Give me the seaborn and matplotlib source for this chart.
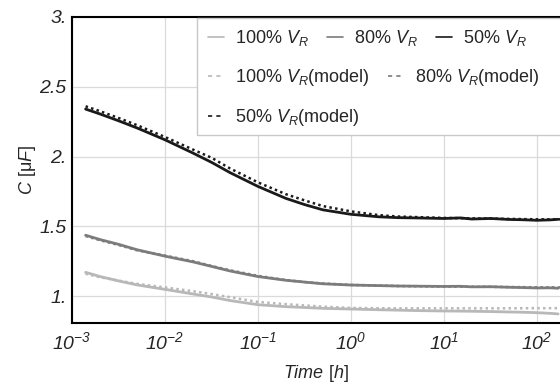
import numpy as np
import pandas as pd
import seaborn as sns
import matplotlib.pyplot as plt
from matplotlib.lines import Line2D
from matplotlib.legend import Legend
from matplotlib.patches import Rectangle

# measured time points [h]
time_data = [0.0014, 0.002, 0.0032, 0.005, 0.01, 0.02, 0.032, 0.05, 0.1, 0.2, 0.32, 0.5,
             1.0, 2.0, 3.2, 5.0, 10.0, 15.0, 20.0, 32.0, 50.0, 70.0, 100.0, 140.0, 170.0]
c_100 = [1.17, 1.14, 1.108, 1.08, 1.048, 1.015, 0.993, 0.968, 0.938, 0.924, 0.918, 0.912,
         0.907, 0.902, 0.899, 0.896, 0.893, 0.892, 0.891, 0.889, 0.886, 0.884, 0.881, 0.876, 0.872]
c_80 = [1.436, 1.405, 1.37, 1.332, 1.286, 1.245, 1.212, 1.18, 1.14, 1.113, 1.10, 1.088,
        1.079, 1.075, 1.072, 1.071, 1.069, 1.070, 1.066, 1.067, 1.063, 1.061, 1.058, 1.059, 1.056]
c_50 = [2.34, 2.305, 2.255, 2.205, 2.12, 2.025, 1.957, 1.885, 1.786, 1.70, 1.655, 1.618,
        1.586, 1.568, 1.562, 1.560, 1.556, 1.560, 1.552, 1.556, 1.549, 1.547, 1.543, 1.546, 1.55]

# model time points [h]
time_model = [0.0014, 0.002, 0.0032, 0.005, 0.01, 0.02, 0.032, 0.05, 0.1, 0.2, 0.32, 0.5,
              1.0, 2.0, 3.2, 10.0, 32.0, 100.0, 178.0]
m_100 = [1.16, 1.135, 1.11, 1.088, 1.062, 1.035, 1.014, 0.992, 0.958, 0.942, 0.933, 0.924,
         0.915, 0.913, 0.912, 0.912, 0.912, 0.913, 0.913]
m_80 = [1.43, 1.40, 1.365, 1.328, 1.29, 1.25, 1.215, 1.185, 1.145, 1.115, 1.10, 1.09,
        1.08, 1.075, 1.072, 1.068, 1.066, 1.063, 1.062]
m_50 = [2.36, 2.325, 2.275, 2.225, 2.14, 2.05, 1.99, 1.915, 1.815, 1.73, 1.685, 1.645,
        1.607, 1.58, 1.57, 1.56, 1.555, 1.55, 1.55]

colors = {"100": "#b8b8b8", "80": "#7c7c7c", "50": "#1a1a1a"}

sns.set_style("white")
plt.rcParams["font.family"] = ["Liberation Sans", "DejaVu Sans"]
plt.rcParams["mathtext.fontset"] = "custom"
# italic for digits too (tick exponents)
plt.rcParams["mathtext.rm"] = "Liberation Sans:italic"
plt.rcParams["mathtext.it"] = "Liberation Sans:italic"
plt.rcParams["mathtext.default"] = "it"

fig = plt.figure(figsize=(5.6, 3.87), dpi=100)
ax = fig.add_axes([0.1286, 0.1654, 0.8714, 0.7907])

dots = (0, (1, 1.3))
for key, ys in [("100", c_100), ("80", c_80), ("50", c_50)]:
    sns.lineplot(x=time_data, y=ys, ax=ax, color=colors[key], linewidth=2.0, zorder=3)
for key, ys in [("100", m_100), ("80", m_80), ("50", m_50)]:
    sns.lineplot(x=time_model, y=ys, ax=ax, color=colors[key], linewidth=1.8,
                 linestyle=dots, zorder=3)

ax.set_xscale("log")
ax.set_xlim(1e-3, 178)
ax.set_ylim(0.807, 3.0)

xt = [1e-3, 1e-2, 1e-1, 1e0, 1e1, 1e2]
ax.set_xticks(xt)
ax.set_xticklabels([r"$10^{-3}$", r"$10^{-2}$", r"$10^{-1}$",
                    r"$10^{0}$", r"$10^{1}$", r"$10^{2}$"])
ax.xaxis.set_minor_locator(plt.NullLocator())
yt = [1.0, 1.5, 2.0, 2.5, 3.0]
ax.set_yticks(yt)
ax.set_yticklabels(["1.", "1.5", "2.", "2.5", "3."], fontstyle="italic")
ax.tick_params(axis="x", direction="in", length=3, width=1, labelsize=14, pad=6, color="black")
ax.tick_params(axis="y", direction="out", length=2, width=1, labelsize=14, pad=2, color="black")

ax.grid(True, color="#dadada", linewidth=0.9)
for s in ["left", "bottom", "top"]:
    ax.spines[s].set_color("black")
    ax.spines[s].set_linewidth(1.5)
ax.spines["right"].set_visible(False)

ax.set_xlabel(r"$Time$ [$h$]", fontsize=13, labelpad=7)
ax.set_ylabel(r"$C$ [μ$F$]", fontsize=13, labelpad=1)

# legend box (wraps like the original, three rows)
ax.add_patch(Rectangle((0.256, 0.614), 0.9, 0.382, transform=ax.transAxes,
                       facecolor="white", edgecolor="#c8c8c8", linewidth=1.0, zorder=4))

def h_data(c):
    return Line2D([], [], color=c, linewidth=1.2)

def h_model(c):
    return Line2D([], [], color=c, linewidth=1.2, linestyle=(0, (2.5, 2.5)))

rows = [
    (0.931, [h_data(colors["100"]), h_data(colors["80"]), h_data(colors["50"])],
     [r"100% $V_R$", r"80% $V_R$", r"50% $V_R$"]),
    (0.801, [h_model(colors["100"]), h_model(colors["80"])],
     [r"100% $V_R$(model)", r"80% $V_R$(model)"]),
    (0.670, [h_model(colors["50"])], [r"50% $V_R$(model)"]),
]
for y, handles, labels in rows:
    leg = Legend(ax, handles, labels, loc="center left", bbox_to_anchor=(0.279, y),
                 bbox_transform=ax.transAxes, ncol=len(handles), frameon=False,
                 fontsize=13, handlelength=0.9, handletextpad=0.6, columnspacing=1.0,
                 borderpad=0, borderaxespad=0)
    leg.set_zorder(5)
    ax.add_artist(leg)

fig.savefig("out.png", dpi=100)
